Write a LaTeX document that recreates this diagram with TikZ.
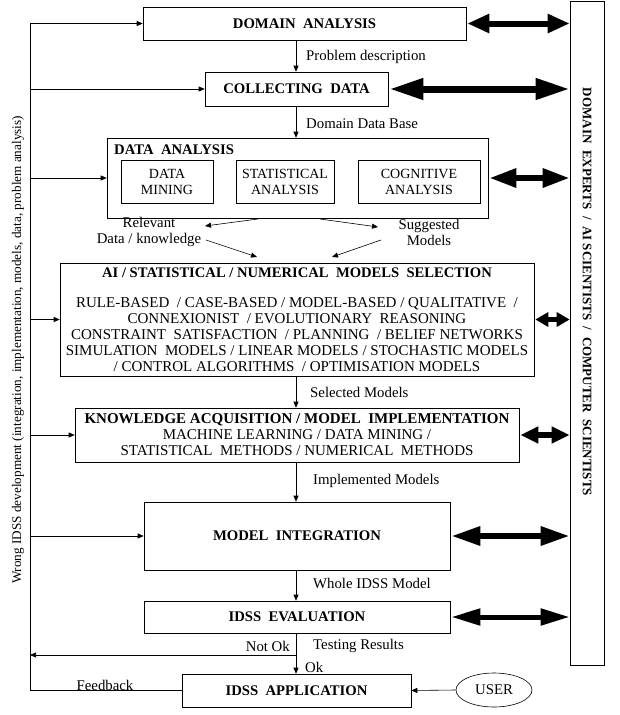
\documentclass[tikz,border=0pt]{standalone}
\usepackage{fontspec}
\setmainfont{Liberation Serif}
\usetikzlibrary{arrows.meta,shapes.geometric}
\begin{document}
\begin{tikzpicture}[x=1pt,y=-1pt,
  every node/.style={font=\fontsize{15}{16}\selectfont, inner sep=0pt},
  box/.style={draw, line width=0.6pt, align=center},
  ttl/.style={font=\fontsize{14.7}{16}\selectfont\bfseries},
  lbl/.style={font=\fontsize{14.8}{16}\selectfont},
  inner/.style={font=\fontsize{14}{16}\selectfont},
  conn/.style={line width=0.6pt, -{Triangle[length=6pt,width=5pt]}},
  plain/.style={line width=0.6pt},
  bigarrow/.style n args={3}{line width=#3, arrows={Triangle[length=#1,width=#2]-Triangle[length=#1,width=#2]}},
]
\useasboundingbox (0,0) rectangle (620,715);

% boxes
\node[box, ttl, minimum width=323pt, minimum height=33pt] (da) at (304.5,23.5) {DOMAIN\ \ ANALYSIS};
\node[box, ttl, minimum width=183pt, minimum height=34pt] (cd) at (296.5,89) {COLLECTING\ \ DATA};
\node[box, minimum width=381pt, minimum height=80pt] (dan) at (297.5,178) {};
\node[ttl, anchor=west] (dant) at (114,150) {DATA\ \ ANALYSIS};
\node[box, inner, minimum width=92pt, minimum height=43pt] (dm) at (167,181.5) {DATA\\MINING};
\node[box, inner, minimum width=98pt, minimum height=43pt] (sa) at (285,181.5) {STATISTICAL\\ANALYSIS};
\node[box, inner, minimum width=122pt, minimum height=43pt] (ca) at (419,181.5) {COGNITIVE\\ANALYSIS};

\node[box, minimum width=474pt, minimum height=113pt] (ai) at (297,319.5) {};
\node[font=\fontsize{14.6}{16}\selectfont\bfseries] (ait) at (297,273) {AI / STATISTICAL / NUMERICAL\ \ MODELS\ \ SELECTION};
\node[align=center] (aib) at (297,335) {RULE-BASED\ \ / CASE-BASED / MODEL-BASED / QUALITATIVE\ \ /\\
CONNEXIONIST\ \ / EVOLUTIONARY\ \ REASONING\\
CONSTRAINT\ \ SATISFACTION\ \ / PLANNING\ \ / BELIEF NETWORKS\\
SIMULATION\ \ MODELS / LINEAR MODELS / STOCHASTIC MODELS\\
/ CONTROL ALGORITHMS\ \ / OPTIMISATION MODELS};

\node[box, minimum width=444pt, minimum height=54pt] (ka) at (297,435) {{\bfseries KNOWLEDGE ACQUISITION / MODEL\ \ IMPLEMENTATION}\\
MACHINE LEARNING / DATA MINING /\\
STATISTICAL\ \ METHODS / NUMERICAL\ \ METHODS};

\node[box, ttl, minimum width=306pt, minimum height=68pt] (mi) at (297,536) {MODEL\ \ INTEGRATION};
\node[box, ttl, minimum width=306pt, minimum height=32pt] (ev) at (297,617) {IDSS\ \ EVALUATION};
\node[box, ttl, minimum width=229pt, minimum height=33pt] (app) at (296.5,690.5) {IDSS\ \ APPLICATION};
\node[draw, ellipse, lbl, line width=0.6pt, minimum width=76pt, minimum height=34pt] (user) at (494,690) {USER};

\node[box, minimum width=34pt, minimum height=664pt] (rb) at (587,333) {};
\node[rotate=-90, font=\fontsize{13}{15}\selectfont\bfseries] (rbt) at (587,292) {DOMAIN\ \ EXPERTS\ \ /\ \ AI SCIENTISTS\ \ /\ \ COMPUTER\ \ SCIENTISTS};

\node[rotate=90, font=\fontsize{13.2}{15}\selectfont] (wrong) at (18,350) {Wrong IDSS development (integration, implementation, models, data, problem analysis)};

% labels
\node[lbl, anchor=west] (l1) at (306,57) {Problem description};
\node[lbl, anchor=west] (l2) at (306,124) {Domain Data Base};
\node[lbl, align=center] (rel) at (149,232) {Relevant\\Data / knowledge};
\node[lbl, align=center] (sug) at (429,232) {Suggested\\Models};
\node[lbl, anchor=west] (l3) at (310,392) {Selected Models};
\node[lbl, anchor=west] (l4) at (313,481) {Implemented Models};
\node[lbl, anchor=west] (l5) at (313,583) {Whole IDSS Model};
\node[lbl, anchor=west] (l6) at (313,646) {Testing Results};
\node[lbl, anchor=east] (l7) at (290,646) {Not Ok};
\node[lbl, anchor=west] (l8) at (305,667) {Ok};
\node[lbl] (l9) at (105,685) {Feedback};

% coordinates
\coordinate (ax) at (296,0);
\coordinate (lx) at (30,0);
\coordinate (nok) at (296,655);
\coordinate (rA) at (258,219);
\coordinate (rB) at (205,226);
\coordinate (rC) at (206,240);
\coordinate (rD) at (257,257);
\coordinate (sA) at (320,219);
\coordinate (sB) at (378,227);
\coordinate (sC) at (381,240);
\coordinate (sD) at (332,257);

% main flow
\draw[conn] (da.south -| ax) -- (cd.north -| ax);
\draw[conn] (cd.south -| ax) -- (dan.north -| ax);
\draw[conn] (ai.south -| ax) -- (ka.north -| ax);
\draw[conn] (ka.south -| ax) -- (mi.north -| ax);
\draw[conn] (mi.south -| ax) -- (ev.north -| ax);
\draw[conn] (ev.south -| ax) -- (app.north -| ax);
\draw[conn] (nok) -- (nok -| lx);

\draw[conn] (rA) -- (rB);
\draw[conn] (rC) -- (rD);
\draw[conn] (sA) -- (sB);
\draw[conn] (sC) -- (sD);

% feedback loop
\draw[plain] (app.west) -- (app.west -| lx) -- (da.west -| lx);
\draw[conn] (da.west -| lx) -- (da.west);
\draw[conn] (cd.west -| lx) -- (cd.west);
\draw[conn] (dan.west -| lx) -- (dan.west);
\draw[conn] (ai.west -| lx) -- (ai.west);
\draw[conn] (ka.west -| lx) -- (ka.west);
\draw[conn] (mi.west -| lx) -- (mi.west);
\draw[conn] (user.west) -- (app.east);

% thick double arrows
\draw[bigarrow={22pt}{18pt}{6pt}] ([xshift=1pt]da.east) -- (da.east -| rb.west);
\draw[bigarrow={34pt}{20pt}{7pt}] ([xshift=1pt]cd.east) -- (cd.east -| rb.west);
\draw[bigarrow={27pt}{18pt}{6pt}] ([xshift=1pt]dan.east) -- (dan.east -| rb.west);
\draw[bigarrow={13pt}{14pt}{5pt}] ([xshift=1pt]ai.east) -- (ai.east -| rb.west);
\draw[bigarrow={18pt}{16pt}{6pt}] ([xshift=1pt]ka.east) -- (ka.east -| rb.west);
\draw[bigarrow={29pt}{18pt}{6pt}] ([xshift=1pt]mi.east) -- (mi.east -| rb.west);
\draw[bigarrow={29pt}{16pt}{5pt}] ([xshift=1pt]ev.east) -- (ev.east -| rb.west);
\end{tikzpicture}
\end{document}
